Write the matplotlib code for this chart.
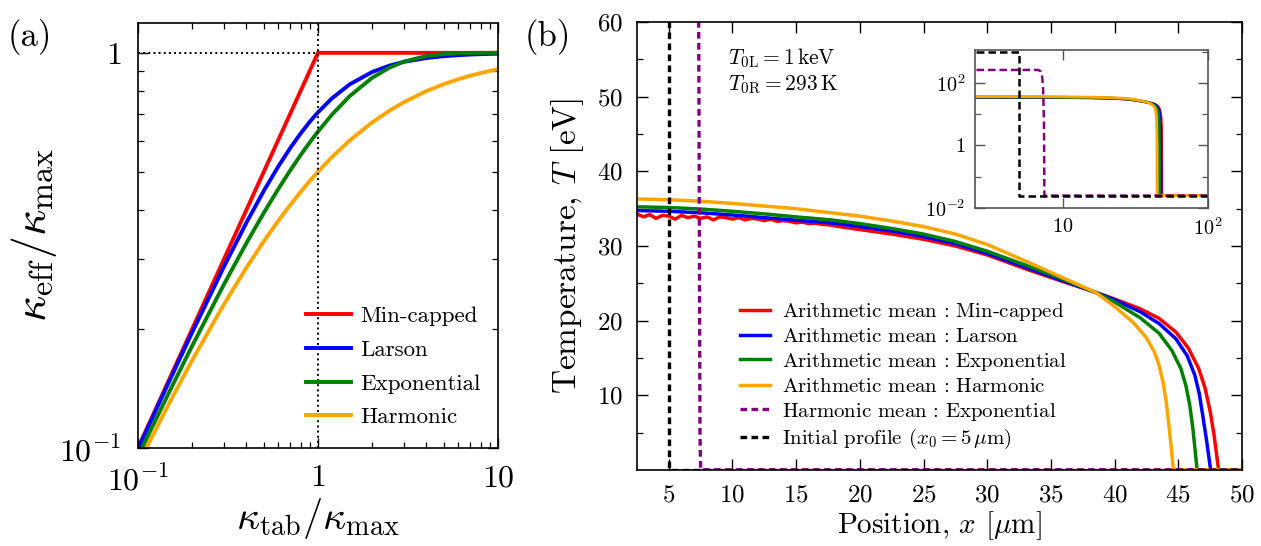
import numpy as np
import matplotlib.pyplot as plt
from matplotlib.ticker import LogLocator, NullFormatter, NullLocator, FixedLocator

plt.rcParams['font.family'] = 'serif'
plt.rcParams['font.serif'] = ['cmr10']
plt.rcParams['mathtext.fontset'] = 'cm'
plt.rcParams['axes.unicode_minus'] = False
plt.rcParams['axes.formatter.use_mathtext'] = True

# ---- panel (a): effective conductivity vs tabulated
k_tab = [0.1, 0.15, 0.2, 0.3, 0.4, 0.5, 0.6, 0.7, 0.8, 0.9, 1.0, 1.2, 1.5,
         2.0, 2.5, 3.0, 4.0, 5.0, 6.0, 7.0, 8.0, 10.0]
k_mincap = [0.1, 0.15, 0.2, 0.3, 0.4, 0.5, 0.6, 0.7, 0.8, 0.9, 1.0, 1.0, 1.0,
            1.0, 1.0, 1.0, 1.0, 1.0, 1.0, 1.0, 1.0, 1.0]
k_larson = [0.0995, 0.1483, 0.1961, 0.2873, 0.3714, 0.4472, 0.5145, 0.5735,
            0.6247, 0.6690, 0.7071, 0.7682, 0.8321, 0.8944, 0.9285, 0.9487,
            0.9701, 0.9806, 0.9864, 0.9899, 0.9923, 0.9950]
k_expo = [0.0952, 0.1393, 0.1813, 0.2592, 0.3297, 0.3935, 0.4512, 0.5034,
          0.5507, 0.5934, 0.6321, 0.6988, 0.7769, 0.8647, 0.9179, 0.9502,
          0.9817, 0.9933, 0.9975, 0.9991, 0.9997, 1.0]
k_harm = [0.0909, 0.1304, 0.1667, 0.2308, 0.2857, 0.3333, 0.375, 0.4118,
          0.4444, 0.4737, 0.5, 0.5455, 0.6, 0.6667, 0.7143, 0.75, 0.8,
          0.8333, 0.8571, 0.875, 0.8889, 0.9091]

# ---- panel (b): temperature profiles
x_or = [0, 2.5, 5, 7.5, 10, 12.5, 15, 17.7, 20, 22.5, 25, 27.5, 30, 33.4, 36,
        38.5, 40, 41.5, 42.5, 43.1, 43.5, 43.8, 44.05, 44.3, 44.45, 44.55,
        44.62, 100]
T_or = [36.3, 36.3, 36.2, 36.0, 35.7, 35.35, 35.0, 34.45, 34.0, 33.35, 32.6,
        31.6, 30.2, 27.7, 25.7, 23.8, 21.9, 19.7, 17.7, 15.9, 14.0, 11.8, 9.2,
        5.5, 3.0, 1.2, 0.025, 0.025]

x_gr = [0, 2.5, 5, 7.5, 10, 12.5, 15, 17.7, 20, 22.5, 25, 27.5, 30, 33.4, 36,
        38.5, 40, 42, 43.5, 44.5, 45.2, 45.6, 45.9, 46.15, 46.3, 46.42, 46.48,
        100]
T_gr = [35.25, 35.25, 35.15, 34.95, 34.65, 34.3, 33.9, 33.5, 33.0, 32.35, 31.6,
        30.6, 29.3, 27.2, 25.5, 23.8, 22.5, 20.4, 18.3, 16.0, 13.6, 11.3, 8.7,
        5.5, 3.0, 1.0, 0.025, 0.025]

x_bl = [0, 2.5, 5, 7.5, 10, 12.5, 15, 17.7, 20, 22.5, 25, 27.5, 30, 33.4, 36,
        38.5, 40, 42, 43.5, 44.8, 45.7, 46.3, 46.65, 46.95, 47.2, 47.38, 47.5,
        47.55, 100]
T_bl = [34.75, 34.75, 34.65, 34.45, 34.15, 33.8, 33.45, 33.1, 32.6, 32.0, 31.25,
        30.3, 29.0, 26.9, 25.3, 23.8, 22.8, 21.2, 19.6, 17.6, 15.3, 12.7, 10.2,
        7.0, 4.2, 2.0, 0.5, 0.025, 0.025]

x_rd = [0, 2.5, 3.0, 3.5, 4.0, 4.5, 5.0, 5.5, 6.0, 6.5, 7.0, 7.5, 8.0, 8.5, 9.0,
        9.5, 10.0, 10.5, 11.0, 11.5, 12.0, 12.5, 13.0, 13.5, 14.0, 14.5, 15.0,
        15.5, 16.0, 16.5, 17.0, 17.5, 18.0, 20, 22.5, 25, 27.5, 30, 33.4, 36,
        38.5, 40, 42, 43.5, 44.8, 45.8, 46.6, 47.1, 47.5, 47.8, 48.0, 48.12,
        48.18, 100]
T_rd = [34.3, 34.3, 33.9, 34.2, 33.7, 34.1, 34.0, 33.6, 34.1, 33.8, 34.0, 33.7,
        33.9, 33.5, 33.9, 33.8, 33.6, 33.8, 33.5, 33.7, 33.6, 33.4, 33.6, 33.3,
        33.4, 33.3, 33.1, 33.2, 33.0, 33.05, 32.9, 32.85, 32.7, 32.2, 31.6, 30.9,
        30.0, 28.8, 26.7, 25.2, 23.8, 22.9, 21.6, 20.3, 18.5, 16.3, 13.6, 11.0,
        7.9, 4.8, 2.2, 0.6, 0.025, 0.025]

x_hm = [0, 6.8, 7.1, 7.25, 7.35, 7.45, 7.5, 100]
T_hm = [260, 258, 230, 150, 60, 5, 0.025, 0.025]

x_init = [0, 5, 5, 100]
T_init = [1000, 1000, 0.025, 0.025]

labels_a = ['Min-capped', 'Larson', 'Exponential', 'Harmonic']
colors = ['red', 'blue', 'green', 'orange']


def style_ticks(ax, maj=7, mnr=4):
    ax.tick_params(which='both', direction='in', top=True, right=True)
    ax.tick_params(which='major', length=maj, width=1.0)
    ax.tick_params(which='minor', length=mnr, width=0.9)


fig = plt.figure(figsize=(12.61, 5.46), dpi=100)

# panel (a)
axa = fig.add_axes([0.1094, 0.1795, 0.2855, 0.7784])
for y, c, lab in zip([k_mincap, k_larson, k_expo, k_harm], colors, labels_a):
    axa.plot(k_tab, y, color=c, lw=2.8, label=lab)
axa.plot([0.1, 1], [1, 1], ':', color='k', lw=1.4)
axa.plot([1, 1], [0.1, 1.2], ':', color='k', lw=1.4)
axa.set_xscale('log')
axa.set_yscale('log')
axa.set_xlim(0.1, 10)
axa.set_ylim(0.1, 1.19)
axa.set_xticks([0.1, 1, 10])
axa.set_xticklabels([r'$10^{-1}$', r'$1$', r'$10$'])
axa.set_yticks([0.1, 1])
axa.set_yticklabels([r'$10^{-1}$', r'$1$'])
axa.xaxis.set_minor_locator(LogLocator(base=10, subs=np.arange(2, 10)))
axa.yaxis.set_minor_locator(LogLocator(base=10, subs=np.arange(2, 10)))
axa.xaxis.set_minor_formatter(NullFormatter())
axa.yaxis.set_minor_formatter(NullFormatter())
style_ticks(axa)
axa.tick_params(labelsize=23, pad=12)
axa.set_xlabel(r'$\kappa_{\rm tab}/\kappa_{\rm max}$', fontsize=29, labelpad=0)
axa.set_ylabel(r'$\kappa_{\rm eff}/\kappa_{\rm max}$', fontsize=33, labelpad=0)
axa.legend(loc='lower right', bbox_to_anchor=(1.01, 0.0), frameon=False,
           fontsize=16.5, handlelength=2.0, handletextpad=0.4, labelspacing=0.6)
for s in axa.spines.values():
    s.set_linewidth(1.2)
fig.text(0.006, 0.915, '(a)', fontsize=25)

# panel (b)
axb = fig.add_axes([0.5051, 0.1392, 0.4798, 0.8205])
axb.plot(x_rd, T_rd, color='red', lw=2.5, label=r'Arithmetic mean$\,:\,$Min-capped')
axb.plot(x_bl, T_bl, color='blue', lw=2.5, label=r'Arithmetic mean$\,:\,$Larson')
axb.plot(x_gr, T_gr, color='green', lw=2.5, label=r'Arithmetic mean$\,:\,$Exponential')
axb.plot(x_or, T_or, color='orange', lw=2.5, label=r'Arithmetic mean$\,:\,$Harmonic')
axb.plot(x_hm, T_hm, color='purple', lw=2.4, ls=(0, (2.0, 1.3)),
         label=r'Harmonic mean$\,:\,$Exponential')
axb.plot(x_init, T_init, color='k', lw=2.4, ls=(0, (2.0, 1.3)),
         label=r'Initial profile ($x_0 = 5\,\mu$m)')
axb.set_xlim(2.5, 50)
axb.set_ylim(0, 60)
axb.set_xticks(np.arange(5, 51, 5))
axb.set_yticks(np.arange(10, 61, 10))
axb.yaxis.set_minor_locator(FixedLocator(np.arange(5, 60, 10)))
style_ticks(axb, maj=8, mnr=4.5)
axb.tick_params(labelsize=18, pad=10)
axb.set_xlabel(r'Position, $x$ [$\mu$m]', fontsize=21, labelpad=2)
axb.set_ylabel(r'Temperature, $T$ [eV]', fontsize=24, labelpad=8)
axb.legend(loc='lower left', bbox_to_anchor=(0.14, 0.0), frameon=False,
           fontsize=15, handlelength=1.4, handletextpad=0.6, labelspacing=0.22)
axb.text(0.15, 0.945, r'$T_{\rm 0L} = 1\,{\rm keV}$', transform=axb.transAxes,
         fontsize=15.5, va='top')
axb.text(0.15, 0.885, r'$T_{\rm 0R} = 293\,{\rm K}$', transform=axb.transAxes,
         fontsize=15.5, va='top')
for s in axb.spines.values():
    s.set_linewidth(1.2)
fig.text(0.416, 0.915, '(b)', fontsize=25)

# inset, log-log
axi = fig.add_axes([0.7732, 0.619, 0.1848, 0.2894])
axi.plot(x_rd, T_rd, color='red', lw=2.0)
axi.plot(x_bl, T_bl, color='blue', lw=2.0)
axi.plot(x_gr, T_gr, color='green', lw=2.0)
axi.plot(x_or, T_or, color='orange', lw=2.0)
axi.plot(x_hm, T_hm, color='purple', lw=1.8, ls=(0, (3.0, 1.6)))
axi.plot(x_init, T_init, color='k', lw=1.8, ls=(0, (3.0, 1.6)))
axi.set_xscale('log')
axi.set_yscale('log')
axi.set_xlim(2.5, 100)
axi.set_ylim(0.01, 1120)
axi.set_xticks([10, 100])
axi.set_xticklabels([r'$10$', r'$10^2$'])
axi.xaxis.set_minor_locator(NullLocator())
axi.set_yticks([0.01, 1, 100])
axi.set_yticklabels([r'$10^{-2}$', r'$1$', r'$10^2$'])
axi.yaxis.set_minor_locator(FixedLocator([0.1, 10, 1000]))
axi.yaxis.set_minor_formatter(NullFormatter())
style_ticks(axi, maj=7, mnr=4.5)
axi.tick_params(labelsize=14.5, pad=7, color='#555555')
axi.tick_params(which='minor', color='#555555')
for s in axi.spines.values():
    s.set_linewidth(1.2)
    s.set_color('#555555')

fig.savefig('out.png', dpi=100)
